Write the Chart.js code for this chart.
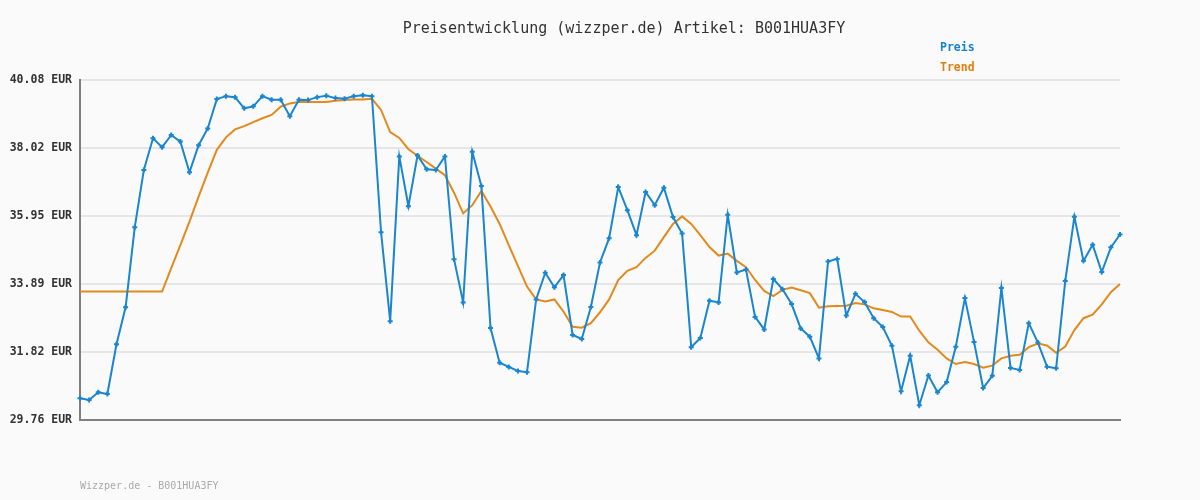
<!DOCTYPE html>
<html>
<head>
<meta charset="utf-8">
<script src="https://cdn.jsdelivr.net/npm/chart.js@4/dist/chart.umd.min.js"></script>
<style>
    body { margin: 0; background: #fafafa; }
    #Wrap { position: relative; width: 1200px; height: 500px; }
    #Chart { position: absolute; left: 0; top: 0; }
    .Txt { position: absolute; font-family: "DejaVu Sans Mono", monospace; white-space: nowrap; }
    #Title { left: 0; width: 1248px; top: 19px; text-align: center; font-size: 15px; color: #333; }
    .Legend { left: 940px; font-size: 11.5px; font-weight: bold; }
    #Footer { left: 80px; top: 480px; font-size: 10px; color: #aaa; }
</style>
</head>
<body>
<div id="Wrap">
    <canvas id="Chart" width="1200" height="500"></canvas>
    <div class="Txt" id="Title">Preisentwicklung (wizzper.de) Artikel: B001HUA3FY</div>
    <div class="Txt Legend" style="top: 40px; color: #1582d0;">Preis</div>
    <div class="Txt Legend" style="top: 60px; color: #e07f10;">Trend</div>
    <div class="Txt" id="Footer">Wizzper.de - B001HUA3FY</div>
</div>
<script>
// Preis je Messpunkt
const preis = [
    30.42, 30.37, 30.60, 30.55, 32.06, 33.18, 35.61, 37.35, 38.31, 38.04,
    38.41, 38.21, 37.28, 38.10, 38.61, 39.50, 39.59, 39.56, 39.22, 39.28,
    39.59, 39.48, 39.48, 38.98, 39.48, 39.47, 39.56, 39.60, 39.53, 39.51,
    39.59, 39.62, 39.59, 35.46, 32.76, 37.76, 36.25, 37.79, 37.37, 37.35,
    37.76, 34.64, 33.33, 37.90, 36.86, 32.55, 31.50, 31.37, 31.25, 31.21,
    33.42, 34.23, 33.79, 34.16, 32.34, 32.22, 33.19, 34.54, 35.28, 36.83,
    36.13, 35.37, 36.68, 36.28, 36.81, 35.92, 35.42, 31.97, 32.25, 33.38,
    33.33, 35.99, 34.24, 34.33, 32.89, 32.51, 34.04, 33.73, 33.28, 32.54,
    32.29, 31.63, 34.57, 34.65, 32.93, 33.59, 33.34, 32.85, 32.58, 32.01,
    30.63, 31.71, 30.21, 31.11, 30.60, 30.91, 31.98, 33.46, 32.13, 30.73,
    31.10, 33.77, 31.34, 31.28, 32.70, 32.11, 31.38, 31.33, 33.98, 35.93,
    34.59, 35.08, 34.25, 35.00, 35.39
];

// Trendlinie
const trend = [
    33.66, 33.66, 33.66, 33.66, 33.66, 33.66, 33.66, 33.66, 33.66, 33.66,
    34.37, 35.07, 35.78, 36.54, 37.27, 37.96, 38.34, 38.58, 38.68, 38.80,
    38.92, 39.02, 39.27, 39.37, 39.41, 39.41, 39.41, 39.41, 39.45, 39.47,
    39.49, 39.49, 39.51, 39.17, 38.50, 38.32, 37.98, 37.78, 37.59, 37.39,
    37.19, 36.66, 36.03, 36.28, 36.71, 36.24, 35.71, 35.07, 34.44, 33.81,
    33.42, 33.36, 33.42, 33.05, 32.59, 32.56, 32.70, 33.03, 33.42, 34.01,
    34.29, 34.40, 34.68, 34.90, 35.31, 35.71, 35.94, 35.71, 35.37, 35.01,
    34.75, 34.81, 34.59, 34.40, 34.01, 33.68, 33.52, 33.71, 33.78, 33.70,
    33.61, 33.17, 33.21, 33.22, 33.23, 33.31, 33.27, 33.15, 33.10, 33.04,
    32.90, 32.90, 32.47, 32.12, 31.89, 31.63, 31.46, 31.52, 31.46, 31.35,
    31.41, 31.63, 31.71, 31.74, 31.97, 32.08, 32.02, 31.80, 31.99, 32.49,
    32.85, 32.96, 33.27, 33.64, 33.89
];

const tickValues = [29.76, 31.824, 33.888, 35.952, 38.016, 40.08];
const labels = preis.map((v, i) => String(i + 1));

var ctx = document.getElementById('Chart').getContext('2d');
var chart = new Chart(ctx, {
    type: 'line',
    data: {
        labels: labels,
        datasets: [{
            label: 'Preis',
            data: preis,
            borderColor: '#1a85d0',
            backgroundColor: '#1a85d0',
            borderWidth: 2,
            pointStyle: 'cross',
            pointRadius: 2.5,
            pointBorderWidth: 2,
            tension: 0,
            order: 1
        }, {
            label: 'Trend',
            data: trend,
            borderColor: '#e38a1c',
            backgroundColor: '#e38a1c',
            borderWidth: 2,
            pointRadius: 0,
            tension: 0,
            order: 2
        }]
    },
    options: {
        responsive: false,
        animation: false,
        clip: false,
        layout: { padding: { top: 80, bottom: 80, right: 80, left: 0 } },
        plugins: {
            legend: { display: false },
            title: { display: false },
            tooltip: { enabled: false }
        },
        scales: {
            x: {
                offset: false,
                ticks: { display: false },
                grid: { display: false, drawTicks: false },
                border: { display: true, color: '#7f7f7f', width: 2 },
                afterFit: (s) => { s.height = 0; }
            },
            y: {
                min: 29.76,
                max: 40.08,
                afterBuildTicks: (s) => { s.ticks = tickValues.map(v => ({ value: v })); },
                ticks: {
                    padding: 8,
                    color: '#333',
                    font: { family: 'DejaVu Sans Mono', size: 11.5, weight: 'bold' },
                    callback: (v) => v.toFixed(2) + ' EUR'
                },
                grid: { color: '#e6e6e6', lineWidth: 2, drawTicks: false },
                border: { display: true, color: '#7f7f7f', width: 2 },
                afterFit: (s) => { s.width = 80; }
            }
        }
    }
});
</script>
</body>
</html>
